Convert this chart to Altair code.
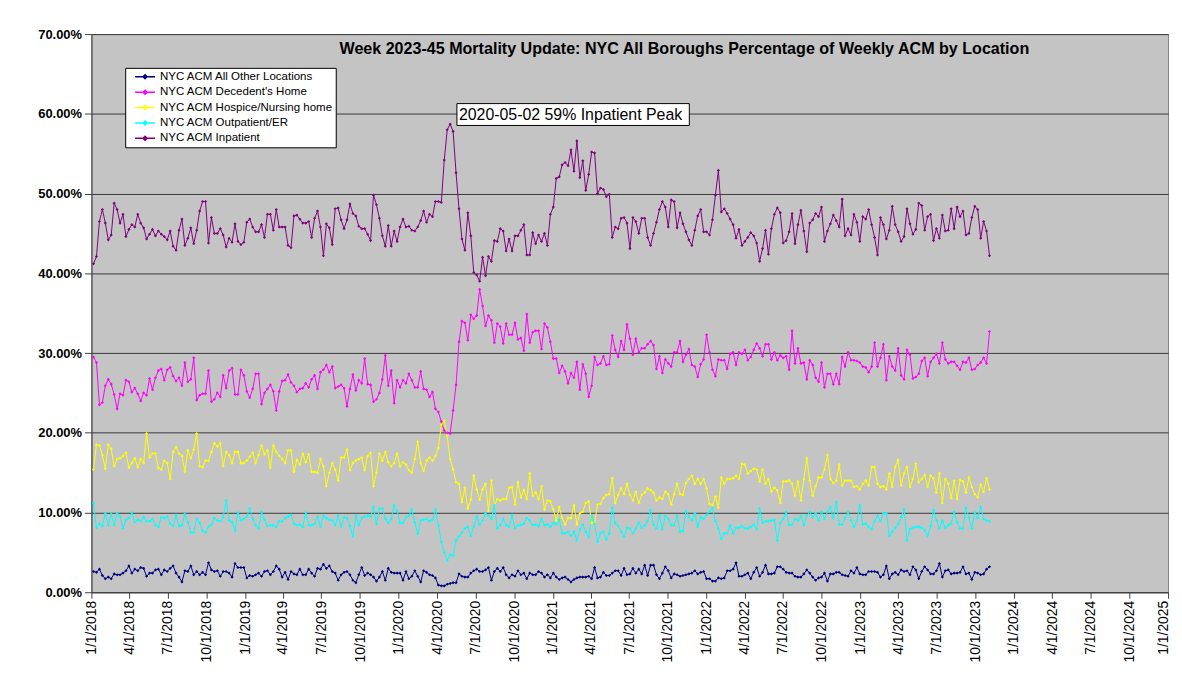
import altair as alt
import pandas as pd

# ---------------- data (percent of weekly all-cause mortality) ----------------
series_names = [
    "NYC ACM All Other Locations",
    "NYC ACM Decedent's Home",
    "NYC ACM Hospice/Nursing home",
    "NYC ACM Outpatient/ER",
    "NYC ACM Inpatient",
]
series_colors = ["#000080", "#FF00FF", "#FFFF00", "#00FFFF", "#800080"]

first_week_end = "2018-01-06"
n_weeks = 305

inpatient = [
    41.2, 42.1, 46.5, 48.0, 46.3, 44.2, 44.8, 48.8, 48.0, 46.3, 47.4, 44.6, 45.5, 46.1, 45.8, 47.4, 46.3, 45.7, 44.3, 44.9,
    45.5, 44.7, 45.3, 44.9, 44.6, 44.2, 45.3, 43.4, 42.9, 45.4, 46.8, 43.5, 44.4, 45.7, 43.7, 45.4, 47.8, 49.0, 49.0, 43.8,
    47.0, 45.0, 45.0, 45.6, 44.8, 43.3, 44.4, 43.9, 46.2, 44.0, 43.6, 43.9, 46.4, 46.8, 45.8, 45.2, 45.2, 46.1, 44.5, 47.4,
    47.4, 45.4, 48.0, 45.8, 45.8, 45.8, 43.5, 43.2, 47.2, 47.3, 46.8, 46.3, 46.3, 46.5, 44.5, 46.9, 47.8, 45.8,
    42.2, 46.2, 45.7, 43.6, 48.1, 48.2, 46.7, 45.6, 46.7, 48.7, 47.5, 47.2, 45.9, 45.6, 45.6, 44.9, 44.1, 49.8, 48.6, 46.9,
    44.7, 43.4, 46.0, 43.4, 45.3, 44.0, 45.8, 46.8, 45.8, 45.9, 45.4, 45.3, 45.8, 46.6, 47.8, 46.4, 47.4, 47.1, 49.0, 49.0,
    48.9, 54.2, 58.0, 58.7, 57.8, 52.6, 48.1, 44.3, 42.9, 47.6, 44.7, 40.1, 39.8, 39.0, 42.0, 39.7, 42.1, 41.5, 44.1, 44.0,
    45.6, 45.3, 42.8, 44.3, 42.8, 44.7, 44.7, 45.4, 46.1, 42.3, 42.3, 45.1, 43.7, 44.8, 44.0, 45.0, 43.5, 47.4, 48.3, 51.9,
    52.1, 53.6, 53.9, 53.5, 55.5, 52.8, 56.6, 52.0, 54.1, 50.4, 52.4, 55.2, 55.1, 50.0, 50.7, 50.5, 49.6, 49.9, 44.5, 45.8,
    45.6, 46.9, 47.0, 46.3, 43.1, 47.0, 46.5, 45.0, 46.9, 46.9, 44.5, 43.5, 45.0, 46.4, 48.0, 49.0, 48.3, 45.8, 49.2, 49.0,
    45.7, 47.6, 46.2, 45.2, 44.2, 43.5, 45.4, 47.2, 48.0, 45.2, 45.2, 44.8, 46.7, 49.8, 52.9, 47.7, 48.1, 47.5, 46.8, 46.1,
    44.4, 45.5, 43.5, 44.0, 44.5, 45.1, 44.7, 43.8, 41.5, 43.1, 45.4, 42.4, 45.6, 47.4, 48.2, 47.6, 43.8, 44.1,
    45.2, 47.5, 43.7, 46.1, 47.9, 45.3, 42.7, 46.3, 46.7, 47.5, 47.1, 48.3, 44.0, 45.3, 46.2, 47.3, 46.6, 45.8, 49.3, 44.7,
    45.6, 44.8, 47.4, 46.4, 44.0, 47.1, 46.8, 48.0, 46.1, 44.5, 42.3, 47.0, 46.1, 44.3, 45.4, 48.4, 46.1, 45.2, 44.0, 44.6,
    48.1, 46.2, 44.9, 45.5, 48.8, 48.5, 45.4, 47.1, 47.4, 44.1, 45.6, 44.4, 47.3, 45.3, 45.4, 48.1, 45.6, 48.3, 47.1, 47.8,
    44.8, 45.0, 47.0, 48.4, 48.0, 44.4, 46.5, 45.3, 42.2,
]

decedents_home = [
    29.5, 28.8, 23.5, 23.8, 25.9, 26.7, 26.1, 24.8, 23.0, 24.9, 24.7, 26.6, 26.4, 25.1, 25.6, 24.9, 24.0, 25.0, 24.7, 26.8,
    25.4, 26.9, 27.8, 28.0, 26.6, 27.9, 28.2, 27.1, 26.5, 26.9, 25.9, 28.8, 26.4, 26.7, 29.4, 24.1, 24.7, 24.9, 24.9, 27.8,
    23.9, 24.2, 25.0, 24.5, 27.2, 25.6, 27.8, 28.1, 24.8, 24.8, 27.9, 27.2, 25.2, 24.4, 25.5, 27.4, 27.4, 23.6, 25.0, 25.5,
    26.0, 25.2, 22.8, 25.2, 26.5, 26.6, 27.3, 26.3, 25.9, 25.1, 25.5, 25.6, 26.2, 25.7, 26.7, 27.2, 25.5, 27.6, 27.9, 28.5,
    27.6, 28.3, 25.6, 25.8, 26.0, 25.6, 23.3, 25.5, 27.3, 25.3, 26.6, 26.2, 29.3, 26.1, 26.0, 23.9, 24.2, 25.0, 26.7, 29.7,
    25.9, 27.8, 23.7, 26.6, 25.7, 26.6, 26.2, 27.4, 26.6, 25.7, 25.7, 27.7, 25.5, 25.4, 24.5, 25.1, 23.0, 22.6, 21.4, 20.3,
    20.0, 19.9, 22.8, 26.0, 31.4, 34.0, 33.8, 31.6, 34.8, 34.3, 34.7, 38.0, 35.9, 33.4, 34.7, 34.1, 31.3, 33.7, 33.3, 31.2,
    33.7, 32.3, 32.3, 33.8, 31.7, 31.9, 30.3, 34.9, 31.3, 32.6, 32.8, 32.8, 30.5, 33.7, 33.2, 31.4, 29.3, 29.3,
    27.5, 28.4, 27.7, 26.2, 27.5, 26.9, 28.9, 25.4, 28.6, 27.4, 24.5, 25.9, 29.5, 28.5, 28.7, 29.6, 28.5, 28.6, 32.2, 30.4,
    29.5, 31.5, 30.4, 33.6, 31.8, 29.8, 31.8, 30.1, 30.6, 30.6, 31.1, 31.5, 31.0, 28.0, 29.6, 27.5, 29.2, 28.7, 28.3, 30.1,
    30.1, 31.5, 28.9, 29.8, 30.5, 28.5, 28.3, 27.0, 28.6, 29.2, 32.3, 30.1, 27.9, 27.1, 29.2, 29.1, 29.1, 28.0, 29.9, 30.1,
    28.5, 30.1, 29.9, 30.4, 29.1, 29.5, 30.4, 31.2, 30.6, 29.6, 31.1, 31.1, 29.2, 30.1, 29.1, 29.7, 29.4, 29.6, 27.9, 32.8,
    28.7, 30.6, 28.7, 28.8, 26.7, 29.1, 28.5, 26.9, 26.4, 28.8, 25.7, 27.4, 27.4, 26.1, 27.4, 26.1, 29.5, 28.3, 30.1, 29.1,
    29.1, 29.0, 28.8, 28.3, 28.2, 27.6, 28.3, 31.3, 28.3, 29.4, 31.1, 26.6, 29.6, 28.3, 27.8, 30.6, 27.2, 26.7, 30.4, 29.8,
    26.8, 27.0, 27.4, 29.0, 29.4, 27.1, 28.9, 29.4, 29.9, 28.7, 31.3, 29.2, 28.7, 28.9, 28.9, 28.4, 27.9, 28.9, 28.8, 29.4,
    27.9, 28.0, 28.5, 28.8, 29.4, 28.7, 32.7,
]

hospice = [
    15.4, 18.5, 18.4, 17.2, 15.5, 18.5, 18.0, 15.8, 16.7, 16.8, 17.1, 17.5, 15.6, 16.2, 16.8, 15.7, 16.7, 16.2, 19.9, 16.9,
    17.4, 17.4, 15.6, 15.4, 16.5, 16.2, 14.2, 17.6, 18.2, 17.4, 17.1, 15.1, 17.8, 16.8, 17.9, 19.9, 15.8, 15.7, 16.5, 16.5,
    17.6, 18.7, 18.3, 18.7, 15.8, 17.6, 17.2, 16.2, 17.6, 17.6, 16.2, 16.2, 16.5, 17.0, 17.5, 16.2, 17.2, 18.4, 17.3, 17.8,
    15.6, 18.4, 17.6, 17.1, 16.7, 16.2, 17.8, 17.8, 15.1, 16.6, 16.0, 17.4, 16.3, 17.3, 15.1, 15.1, 15.0, 16.7, 15.8, 13.3,
    15.0, 16.2, 15.4, 14.0, 16.9, 16.9, 17.9, 15.3, 16.2, 16.5, 16.7, 16.9, 15.3, 17.1, 17.5, 13.3, 15.0, 17.4, 16.5, 17.6,
    16.3, 15.8, 16.2, 17.4, 15.8, 16.3, 16.0, 15.3, 15.0, 16.7, 18.9, 16.2, 15.2, 16.5, 16.9, 16.5, 17.1, 18.1, 21.0, 21.5,
    19.6, 16.7, 15.4, 13.8, 13.6, 11.3, 13.1, 10.5, 11.6, 14.6, 12.9, 11.6, 12.9, 13.6, 10.2, 14.0, 10.9, 11.7, 11.5, 11.7,
    11.7, 13.1, 13.2, 11.0, 13.8, 11.9, 12.8, 11.7, 14.9, 12.1, 12.5, 11.7, 13.3, 10.4, 11.5, 11.4, 10.4, 9.0,
    10.7, 9.3, 8.5, 9.3, 9.3, 10.9, 8.5, 9.9, 10.1, 11.2, 11.4, 8.7, 8.7, 11.0, 11.1, 11.8, 12.2, 12.3, 14.3, 11.2,
    12.2, 13.0, 12.3, 13.6, 12.2, 11.5, 12.6, 11.2, 12.2, 12.5, 13.0, 12.8, 12.5, 11.5, 11.9, 11.7, 12.6, 12.3, 11.0, 12.3,
    13.6, 12.3, 12.2, 13.7, 14.2, 14.6, 13.6, 14.2, 13.6, 14.2, 13.0, 11.1, 10.9, 12.0, 10.6, 14.4, 13.6, 14.2, 14.2, 14.3,
    14.6, 14.2, 16.1, 16.0, 14.9, 15.2, 15.5, 15.4, 13.9, 15.4, 13.6, 14.2, 12.6, 13.1, 12.8, 11.2, 13.9, 13.9, 14.0, 13.6,
    12.1, 13.9, 11.5, 14.2, 16.8, 14.0, 12.1, 13.3, 14.4, 14.4, 15.4, 17.2, 14.2, 13.7, 14.0, 16.0, 13.4, 14.0, 14.0, 14.0,
    13.2, 13.3, 12.9, 13.6, 14.0, 13.4, 15.7, 15.7, 13.6, 13.2, 13.3, 12.9, 14.9, 13.2, 15.7, 16.6, 13.4, 14.9, 15.7, 13.2,
    14.2, 16.1, 13.8, 14.2, 14.7, 13.2, 14.6, 14.3, 12.5, 14.9, 11.2, 14.2, 13.6, 11.8, 14.0, 11.7, 14.1, 13.9, 12.5, 14.4,
    13.2, 12.3, 11.9, 13.5, 12.6, 14.3, 12.9,
]

outpatient_er = [
    11.2, 8.1, 8.6, 8.3, 9.9, 8.4, 9.8, 8.4, 9.9, 9.5, 8.0, 9.1, 9.3, 10.0, 8.8, 9.1, 8.9, 9.4, 8.9, 8.9,
    9.2, 8.4, 8.2, 9.4, 9.3, 9.5, 8.6, 8.3, 9.7, 8.3, 8.4, 9.8, 8.8, 7.5, 7.5, 9.2, 8.7, 7.7, 7.5, 8.2,
    8.5, 9.3, 9.0, 8.9, 9.4, 11.5, 9.0, 8.8, 7.7, 10.0, 9.0, 9.2, 9.5, 10.5, 9.2, 8.4, 8.0, 10.1, 9.1, 8.3,
    8.4, 8.4, 8.2, 8.9, 8.9, 9.3, 9.5, 9.7, 8.6, 8.4, 8.5, 8.2, 10.0, 8.4, 8.4, 8.6, 9.5, 8.2, 9.6, 9.3,
    9.1, 9.0, 8.4, 9.6, 8.2, 9.4, 9.3, 8.3, 7.0, 9.6, 8.4, 9.3, 9.5, 9.6, 9.5, 10.7, 8.6, 10.5, 10.5, 9.2,
    8.7, 9.2, 10.9, 10.2, 8.7, 8.7, 9.4, 9.6, 10.4, 8.8, 7.3, 9.0, 9.1, 9.2, 8.9, 9.1, 10.4, 8.4, 6.3, 5.0,
    4.0, 4.7, 4.6, 6.5, 7.0, 7.5, 8.0, 8.2, 7.1, 8.2, 9.5, 8.5, 9.0, 9.9, 9.6, 9.2, 10.9, 8.0, 8.4, 9.2,
    8.4, 8.2, 9.7, 8.0, 8.4, 8.4, 8.6, 9.3, 9.0, 8.4, 8.5, 8.3, 9.2, 8.4, 8.5, 8.2, 8.7, 8.5,
    9.1, 7.4, 7.4, 7.6, 7.1, 7.6, 6.5, 7.9, 8.5, 7.6, 6.9, 9.6, 8.6, 6.3, 7.4, 7.6, 6.6, 7.4, 10.6, 8.7,
    8.3, 7.6, 7.0, 8.1, 8.0, 7.4, 8.0, 8.7, 8.1, 8.4, 8.9, 10.3, 8.5, 8.0, 9.6, 7.9, 9.6, 9.2, 8.4, 8.4,
    9.6, 7.6, 7.7, 10.2, 9.5, 9.0, 9.9, 8.2, 9.4, 9.2, 9.7, 10.1, 10.6, 8.9, 8.0, 6.7, 7.4, 7.4, 8.4, 7.4,
    8.1, 8.1, 8.3, 8.0, 8.0, 8.2, 8.5, 7.9, 10.5, 8.7, 8.9, 8.9, 9.0, 9.1, 6.5, 8.7, 9.2, 10.1, 8.4, 8.5,
    9.2, 9.0, 9.6, 8.4, 9.6, 10.1, 9.4, 9.9, 9.0, 10.1, 9.2, 10.1, 10.7, 9.3, 11.3, 8.5, 8.5, 9.3, 10.1, 9.0,
    8.2, 9.0, 10.9, 8.5, 8.6, 8.2, 7.9, 8.9, 9.6, 8.9, 9.9, 9.9, 7.1, 7.6, 8.1, 8.6, 9.4, 10.4, 6.5, 7.9,
    8.1, 8.2, 8.2, 8.1, 7.8, 7.1, 8.3, 10.3, 9.0, 8.0, 9.0, 8.1, 8.4, 8.6, 10.1, 8.8, 8.0, 8.0, 10.6, 9.4,
    8.0, 10.0, 9.3, 10.7, 9.2, 9.0, 8.9,
]

all_other = [
    2.6, 2.5, 2.9, 2.1, 1.7, 1.9, 1.7, 2.3, 2.2, 2.2, 2.4, 2.7, 3.3, 2.4, 2.9, 2.7, 3.1, 3.0, 2.0, 2.4,
    2.4, 2.8, 2.9, 2.2, 2.8, 2.6, 3.0, 3.3, 2.4, 1.9, 1.3, 2.7, 2.6, 3.3, 2.2, 2.6, 2.2, 2.5, 2.2, 3.7,
    2.8, 2.6, 2.7, 2.0, 2.6, 2.6, 2.4, 1.9, 3.6, 3.1, 3.1, 3.1, 1.8, 2.1, 2.0, 2.2, 2.4, 2.0, 2.6, 2.7,
    2.2, 2.6, 3.3, 2.9, 1.9, 2.5, 1.6, 2.6, 2.3, 2.2, 2.9, 2.2, 2.2, 2.9, 2.4, 2.0, 3.0, 2.9, 3.5, 3.0,
    3.3, 2.6, 2.4, 1.5, 2.2, 2.5, 2.6, 2.2, 1.5, 1.2, 2.2, 3.1, 2.1, 2.4, 2.2, 1.9, 1.4, 1.9, 2.6, 1.5,
    3.0, 2.5, 2.4, 2.4, 2.4, 1.5, 2.6, 1.7, 2.0, 2.7, 2.0, 1.3, 2.7, 2.5, 2.2, 2.1, 1.8, 0.9, 0.8, 0.8,
    1.0, 1.1, 1.2, 1.2, 2.3, 2.0, 1.9, 1.9, 2.4, 2.7, 2.9, 2.6, 2.6, 2.8, 3.1, 1.5, 2.6, 3.0, 2.6, 3.1,
    2.2, 1.8, 2.2, 2.0, 2.7, 2.2, 2.4, 1.7, 2.4, 2.2, 2.2, 2.6, 2.4, 1.9, 2.2, 1.8, 2.4, 1.9,
    1.6, 1.8, 1.9, 1.6, 1.3, 1.6, 1.8, 1.9, 1.9, 1.9, 2.0, 1.7, 3.1, 1.8, 1.9, 2.5, 2.1, 2.1, 2.4, 2.7,
    2.7, 2.1, 3.0, 2.2, 2.3, 3.0, 2.4, 2.9, 2.3, 3.4, 2.1, 3.4, 3.4, 2.2, 1.7, 2.4, 3.2, 2.7, 1.8, 2.3,
    2.2, 2.0, 2.1, 2.2, 2.3, 2.4, 2.7, 2.3, 2.5, 2.6, 1.7, 1.7, 1.4, 1.4, 1.8, 1.7, 1.8, 2.7, 2.7, 2.9,
    3.7, 2.0, 2.0, 2.2, 2.4, 1.7, 2.5, 3.1, 2.0, 2.5, 3.4, 2.3, 2.3, 2.4, 3.2, 3.2, 2.9, 2.5, 2.4, 2.4,
    2.0, 1.9, 1.9, 2.3, 2.8, 2.4, 1.9, 1.5, 1.8, 1.9, 2.4, 1.4, 2.3, 2.3, 2.5, 2.5, 2.2, 2.1, 2.0, 2.7,
    2.4, 3.1, 2.3, 2.2, 2.2, 2.6, 2.6, 2.6, 2.5, 1.9, 2.2, 3.3, 1.7, 2.3, 2.5, 2.2, 2.8, 2.6, 2.7, 2.2,
    3.2, 2.8, 1.7, 2.6, 3.2, 2.8, 2.3, 2.3, 2.7, 3.6, 1.9, 2.7, 2.8, 2.3, 2.4, 2.4, 2.5, 3.2, 2.3, 2.4,
    1.6, 2.5, 2.4, 2.2, 2.3, 2.9, 3.2,
]

y_ticks = [0.0, 0.1, 0.2, 0.3, 0.4, 0.5, 0.6, 0.7]
tick_years = [2018, 2019, 2020, 2021, 2022, 2023, 2024]
tick_months = [1, 4, 7, 10]
last_tick_year = 2025

chart_title = "Week 2023-45 Mortality Update: NYC All Boroughs Percentage of Weekly ACM by Location"
peak_note = "2020-05-02 59% Inpatient Peak"

# ---------------- build table ----------------
dates = pd.date_range(first_week_end, periods=n_weeks, freq="7D")
rows = []
for name, vals in zip(series_names, [all_other, decedents_home, hospice, outpatient_er, inpatient]):
    for d, v in zip(dates, vals):
        rows.append({"date": d, "series": name, "value": v / 100.0})
df = pd.DataFrame(rows)

tick_dates = [alt.DateTime(year=y, month=m, date=1) for y in tick_years for m in tick_months]
tick_dates.append(alt.DateTime(year=last_tick_year, month=1, date=1))

FONT = "Liberation Sans"

x_enc = alt.X(
    "date:T",
    scale=alt.Scale(domain=[alt.DateTime(year=2018, month=1, date=1),
                            alt.DateTime(year=last_tick_year, month=1, date=1)]),
    axis=alt.Axis(values=tick_dates, format="%-m/%-d/%Y", labelAngle=270, labelFont=FONT,
                  labelFontSize=14, labelColor="black", labelOverlap=False, labelPadding=2,
                  labelOffset={"condition": {"test": "year(datum.value) >= 2025", "value": -5}, "value": 0},
                  tickColor="#404040", tickSize=6, domainColor="#404040", grid=False, title=None),
)
y_enc = alt.Y(
    "value:Q",
    scale=alt.Scale(domain=[0, 0.7], nice=False),
    axis=alt.Axis(values=y_ticks, format=".2%", labelFont=FONT, labelFontSize=13,
                  labelFontWeight="bold", labelColor="black", labelPadding=3,
                  gridColor="#3a3a3a", gridWidth=1, tickColor="#404040", tickSize=7,
                  domainColor="#404040", title=None),
)
color_enc = alt.Color(
    "series:N",
    scale=alt.Scale(domain=series_names, range=series_colors),
    legend=alt.Legend(title=None, orient="none", legendX=34, legendY=34, fillColor="white",
                      strokeColor="black", padding=3, symbolOffset=6, labelFont=FONT,
                      labelFontSize=11.6, labelColor="black", labelLimit=400, labelOffset=4,
                      symbolType="M-1,0H1M-0.2,0L0,-0.2L0.2,0L0,0.2Z", symbolSize=400,
                      symbolStrokeWidth=1.5, rowPadding=3.5, clipHeight=12),
)

lines = alt.Chart(df).mark_line(
    strokeWidth=1,
    point=alt.OverlayMarkDef(filled=True, size=10, shape="diamond"),
).encode(x=x_enc, y=y_enc, color=color_enc)

note_df = pd.DataFrame({"t": [peak_note]})
note_box = alt.Chart(note_df).mark_rect(fill="white", stroke="black", strokeWidth=1).encode(
    x=alt.value(368), x2=alt.value(602), y=alt.value(70), y2=alt.value(92)
)
note_text = alt.Chart(note_df).mark_text(
    align="left", baseline="middle", font=FONT, fontSize=16, color="black"
).encode(x=alt.value(370), y=alt.value(81.5), text="t:N")

title_df = pd.DataFrame({"t": [chart_title]})
title_text = alt.Chart(title_df).mark_text(
    align="center", baseline="middle", font=FONT, fontSize=16.2, fontWeight="bold", color="black"
).encode(x=alt.value(597), y=alt.value(15), text="t:N")

chart = alt.layer(lines, note_box, note_text, title_text).properties(
    width=1084,
    height=562,
    autosize=alt.AutoSizeParams(type="none"),
    padding={"left": 84, "top": 24, "right": 6, "bottom": 73},
    background="white",
).configure_view(fill="#c4c4c4", stroke="#808080", strokeWidth=1)

chart.save("out.html", embed_options={"renderer": "svg", "actions": False})
